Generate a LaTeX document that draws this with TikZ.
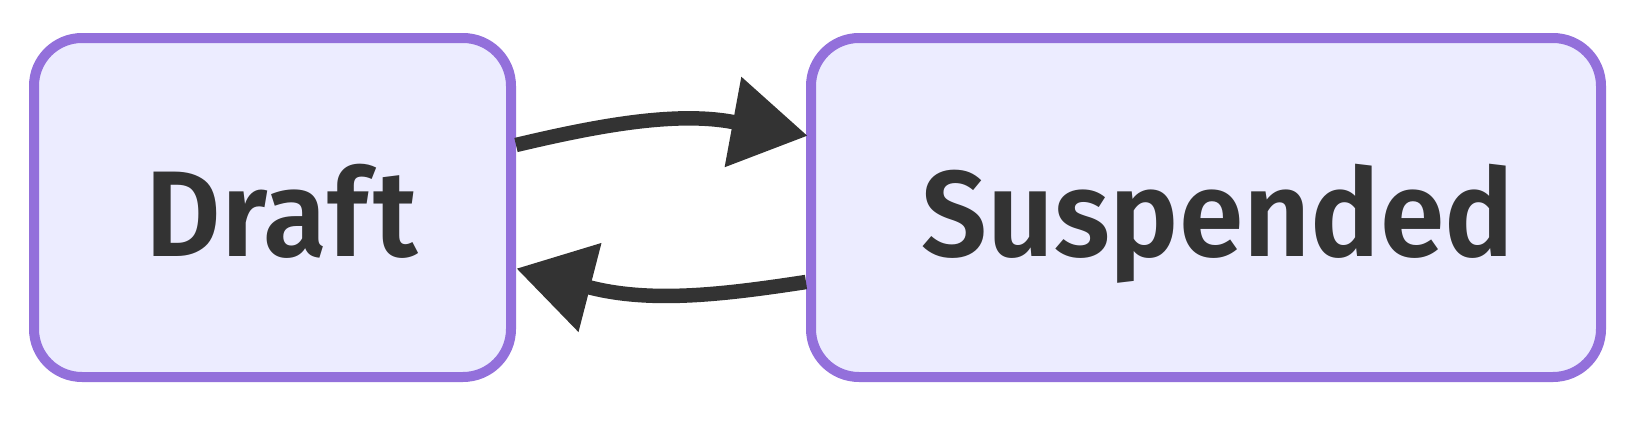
\documentclass[tikz,border=0pt]{standalone}
\usepackage{fontspec}
\setmainfont{Fira Sans}[UprightFont=* SemiBold, Ligatures=NoCommon, FakeStretch=0.955]
\usetikzlibrary{arrows.meta,calc}
\definecolor{boxborder}{HTML}{9370DB}
\definecolor{boxfill}{HTML}{ECECFF}
\definecolor{ink}{HTML}{333333}
\begin{document}
\begin{tikzpicture}[x=1pt,y=-1pt,
  box/.style={draw=boxborder, fill=boxfill, line width=10pt, rounded corners=48pt,
    inner sep=0pt, outer sep=0pt, minimum height=339pt},
  lbl/.style={text=ink, font=\fontsize{122}{140}\selectfont, anchor=base, inner sep=0pt},
  edgeline/.style={draw=ink, line width=14.5pt,
    -{Triangle[length=76pt,width=88pt]}}]
\useasboundingbox (0,0) rectangle (1644,442);
\node[box, minimum width=477pt] (draft) at (272.5,207.5) {};
\node[box, minimum width=790pt] (susp) at (1206,207.5) {};
\node[lbl] (draftlbl) at ($(draft.center)+(9,48.5)$) {Draf\kern5pt t};
\node[lbl] (susplbl) at ($(susp.center)+(12,48.5)$) {Suspended};
\coordinate (s1) at ($(draft.east)+(5,-62.5)$);
\coordinate (t1) at ($(susp.west)+(-3.3,-71.7)$);
\coordinate (b1) at ($(t1)+(-74.7,-13.8)$);
\coordinate (s2) at ($(susp.west)+(-5,74.5)$);
\coordinate (t2) at ($(draft.east)+(5.4,61)$);
\coordinate (b2) at ($(t2)+(73.6,19)$);
\draw[edgeline] (s1) .. controls +(78,-18.5) and +(-59,-11) .. (b1) -- (t1);
\draw[edgeline] (s2) .. controls +(-79,12) and +(63,16) .. (b2) -- (t2);
\end{tikzpicture}
\end{document}
